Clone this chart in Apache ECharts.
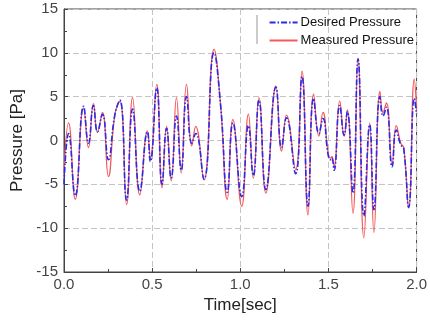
<!DOCTYPE html>
<html>
<head>
<meta charset="utf-8">
<script src="https://cdn.jsdelivr.net/npm/echarts@6/dist/echarts.min.js"></script>
<style>html,body{margin:0;padding:0;background:#fff;}#c{width:430px;height:320px;}</style>
</head>
<body>
<div id="c"></div>
<script>
var timeSec = [0.000,0.026,0.064,0.111,0.139,0.167,0.190,0.218,0.252,0.289,0.317,0.355,0.389,0.430,0.473,0.490,0.526,0.556,0.582,0.608,0.638,0.665,0.695,0.725,0.747,0.794,0.851,0.888,0.926,0.958,1.008,1.046,1.074,1.106,1.145,1.202,1.234,1.262,1.314,1.350,1.384,1.416,1.446,1.469,1.500,1.515,1.520,1.532,1.564,1.589,1.607,1.639,1.668,1.701,1.734,1.758,1.792,1.810,1.829,1.861,1.885,1.910,1.927,1.955,1.987,2.000];
var measuredPa = [-3.5,2.0,-6.7,3.7,-0.8,4.2,0.9,3.2,-4.1,3.0,4.5,-7.3,4.9,-6.2,1.1,-2.0,6.4,-5.4,1.6,-4.6,4.9,-3.7,6.4,-0.6,1.6,-4.5,10.4,4.1,-6.7,2.4,-7.5,3.0,-4.3,4.9,-6.0,6.2,-1.2,2.9,-3.3,7.9,-8.5,5.3,0.5,3.2,-1.6,-2.0,-1.8,-3.0,4.5,0.5,3.5,-8.3,9.4,-11.1,2.0,-10.5,5.6,3.2,4.3,-2.7,1.7,-0.3,-0.8,-7.7,7.0,3.5];
var desiredPa = [-5.0,0.8,-6.3,3.9,-0.3,4.0,1.0,3.0,-2.2,3.0,4.6,-6.8,3.6,-5.8,1.0,-2.4,6.0,-5.0,1.4,-4.3,2.8,-3.4,5.0,-0.3,0.8,-4.4,10.0,4.1,-5.9,2.0,-6.4,1.7,-4.0,4.6,-5.6,6.1,-0.8,2.6,-3.8,7.3,-7.5,4.8,0.8,2.5,-1.8,-2.2,-2.0,-3.4,4.0,0.6,3.3,-6.0,9.3,-8.6,1.8,-7.9,5.0,2.8,3.8,-3.0,1.2,-0.5,-0.9,-7.6,4.8,3.0];
var seriesNames = ['Desired Pressure','Measured Pressure'];
var xTitle = 'Time[sec]';
var yTitle = 'Pressure [Pa]';

function pairs(ts, vs){ return ts.map(function(t,i){ return [t, vs[i]]; }); }

var chart = echarts.init(document.getElementById('c'), null, {renderer:'canvas'});
var font = '"Liberation Sans", Arial, sans-serif';
chart.setOption({
  animation: false,
  backgroundColor: '#fff',
  grid: {left: 64, right: 11, top: 9, bottom: 48, show: true, borderColor: '#444', borderWidth: 1, backgroundColor: 'transparent'},
  legend: {
    data: seriesNames,
    orient: 'vertical',
    right: 12, top: 14,
    itemWidth: 28, itemHeight: 10, itemGap: 5,
    itemStyle: {opacity: 0},
    textStyle: {fontFamily: font, fontSize: 13, color: '#111', padding: [0,0,0,-2]},
    padding: [2,4,2,4]
  },
  graphic: [{type:'line', shape:{x1:257, y1:15, x2:257, y2:44}, style:{stroke:'#999', lineWidth:1}}],
  xAxis: {
    type: 'value', min: 0, max: 2, interval: 0.5,
    name: xTitle, nameLocation: 'middle', nameGap: 24,
    nameTextStyle: {fontFamily: font, fontSize: 17, color: '#222'},
    axisLine: {show: true, onZero: false, lineStyle: {color: '#444'}},
    axisTick: {show: true, inside: true, length: 4, lineStyle: {color: '#444'}},
    minorTick: {show: true, splitNumber: 2, length: 3, lineStyle: {color: '#444'}},
    axisLabel: {fontFamily: font, fontSize: 15, color: '#444', margin: 5, formatter: function(v){ return v.toFixed(1); }},
    splitLine: {show: true, lineStyle: {color: '#c4c4c4', type: [6,3], width: 1}}
  },
  yAxis: {
    type: 'value', min: -15, max: 15, interval: 5,
    name: yTitle, nameLocation: 'middle', nameGap: 33,
    nameTextStyle: {fontFamily: font, fontSize: 17, color: '#222'},
    axisLine: {show: true, onZero: false, lineStyle: {color: '#444'}},
    axisTick: {show: true, inside: true, length: 4, lineStyle: {color: '#444'}},
    minorTick: {show: true, splitNumber: 2, length: 3, lineStyle: {color: '#444'}},
    axisLabel: {fontFamily: font, fontSize: 15, color: '#444', margin: 6},
    splitLine: {show: true, lineStyle: {color: '#c4c4c4', type: [6,3], width: 1}}
  },
  series: [
    {name: seriesNames[1], type: 'line', data: pairs(timeSec, measuredPa), showSymbol: false, symbol: 'none', smooth: 0.5, z: 2,
     lineStyle: {color: '#f25a5a', width: 1.3}, itemStyle: {color: '#f25a5a'}},
    {name: seriesNames[0], type: 'line', data: pairs(timeSec, desiredPa), showSymbol: false, symbol: 'none', smooth: 0.5, z: 3,
     lineStyle: {color: '#2a2ae8', width: 1.6, type: [6,2,1.5,2]}, itemStyle: {color: '#2a2ae8'}}
  ]
});
</script>
</body>
</html>
